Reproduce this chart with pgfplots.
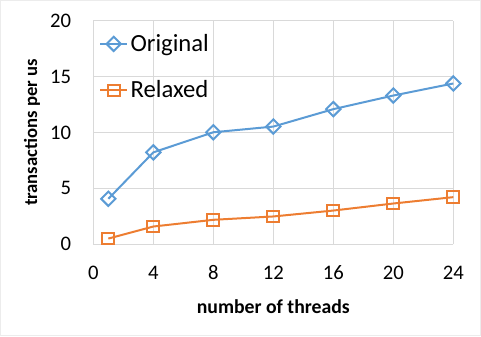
\documentclass[border=0pt]{standalone}
\usepackage{fontspec}
\setmainfont{Carlito}
\usepackage{pgfplots}
\pgfplotsset{compat=1.18}
\definecolor{cblue}{RGB}{91,155,213}
\definecolor{corange}{RGB}{237,125,49}
\definecolor{cgrid}{RGB}{217,217,217}
\definecolor{cframe}{RGB}{236,236,236}
\begin{document}
\begin{tikzpicture}
\begin{axis}[
  scale only axis,
  width=270pt, height=167.5pt,
  xmin=0, xmax=24, ymin=0, ymax=20,
  xtick={0,4,8,12,16,20,24},
  ytick={0,5,10,15,20},
  grid=major,
  major grid style={cgrid, line width=0.75pt},
  axis line style={draw=none},
  major tick length=0pt,
  /pgf/number format/assume math mode=true,
  tick label style={font=\fontsize{15.5}{18}\selectfont, inner sep=0pt},
  xticklabel style={anchor=north, yshift=-16pt},
  yticklabel style={anchor=east, xshift=-16.5pt},
  xlabel={number of threads},
  ylabel={transactions per us},
  label style={font=\bfseries\fontsize{14}{17}\selectfont},
  xlabel style={at={(axis description cs:0.5,-0.2794)}, anchor=center, font=\bfseries\fontsize{14.8}{17}\selectfont},
  ylabel style={at={(axis description cs:-0.1704,0.5)}, anchor=center},
  clip=false,
  legend cell align=left,
  legend style={at={(0.005,0.965)}, anchor=north west, draw=none, fill=none,
    font=\fontsize{18.5}{22}\selectfont, row sep=16.5pt},
  legend image code/.code={\draw[mark repeat=2,mark phase=2,#1] plot coordinates {(0cm,0cm) (0.35cm,0cm) (0.7cm,0cm)};},
]
\addplot[cblue, line width=1.5pt, mark=square, mark size=3.8pt,
  mark options={rotate=45, fill=white, line width=1.5pt}]
  coordinates {(1,4.07) (4,8.23) (8,10.03) (12,10.54) (16,12.1) (20,13.32) (24,14.4)};
\addlegendentry{Original}
\addplot[corange, line width=1.5pt, mark=square, mark size=4.4pt,
  mark options={fill=white, line width=1.5pt}]
  coordinates {(1,0.51) (4,1.59) (8,2.19) (12,2.49) (16,3.02) (20,3.65) (24,4.22)};
\addlegendentry{Relaxed}
\end{axis}
\pgfresetboundingbox
\useasboundingbox (-70pt,-68.8pt) rectangle (290.75pt,183.2pt);
\draw[cframe, line width=0.75pt] (-69.6pt,-68.4pt) rectangle (290.35pt,182.8pt);
\end{tikzpicture}
\end{document}
